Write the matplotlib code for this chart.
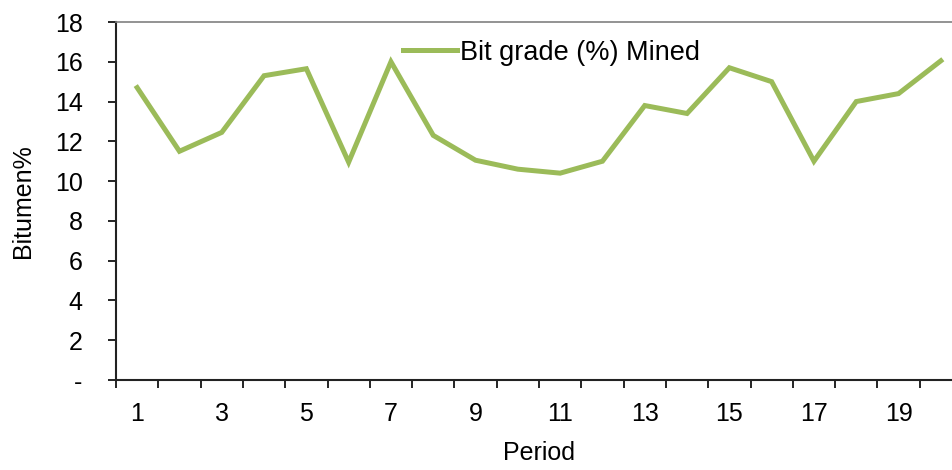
import matplotlib.pyplot as plt
import numpy as np

plt.rcParams['font.family'] = ['Liberation Sans', 'DejaVu Sans']

# 数据
periods = list(range(1, 21))
bit_grade = [14.7, 11.5, 12.45, 15.3, 15.65, 10.95, 16.0, 12.3, 11.05, 10.6,
             10.4, 11.0, 13.8, 13.4, 15.7, 15.0, 11.0, 14.0, 14.4, 16.05]
y_ticks = list(range(0, 19, 2))
y_labels = ['-'] + [str(v) for v in y_ticks[1:]]

fs = 18

fig = plt.figure(figsize=(9.52, 4.70), dpi=100)
ax = fig.add_axes([116 / 952, 90 / 470, 846 / 952, 358 / 470])

ax.plot(periods, bit_grade, color='#9BBB59', lw=3.6, label='Bit grade (%) Mined',
        solid_joinstyle='miter')

ax.set_xlim(0.5, 20.5)
ax.set_ylim(0, 18)

# y 轴
ax.set_yticks(y_ticks)
ax.set_yticklabels(y_labels, fontsize=fs)
ax.tick_params(axis='y', direction='out', length=6, width=1.2, pad=18)

# x 轴：刻度线在类别之间，标签在奇数类别上
ax.set_xticks(np.arange(0.5, 21, 1))
ax.set_xticklabels([])
ax.tick_params(axis='x', which='major', direction='out', length=6, width=1.2)
ax.set_xticks(periods[::2], minor=True)
ax.set_xticklabels([str(p) for p in periods[::2]], minor=True, fontsize=fs)
ax.tick_params(axis='x', which='minor', length=0, pad=16)

for s in ['left', 'bottom']:
    ax.spines[s].set_linewidth(1.5)
    ax.spines[s].set_color('#222222')
ax.spines['top'].set_color('#808080')
ax.spines['top'].set_linewidth(1.2)
ax.spines['right'].set_visible(False)

ax.set_xlabel('Period', fontsize=fs, labelpad=11)
ax.set_ylabel('Bitumen%', fontsize=fs, labelpad=14)

ax.legend(loc='upper left', bbox_to_anchor=(0.339, 0.95), frameon=False,
          fontsize=19.5, handlelength=2.0, handletextpad=0.1,
          borderpad=0, borderaxespad=0)

fig.savefig('out.png', dpi=100)
